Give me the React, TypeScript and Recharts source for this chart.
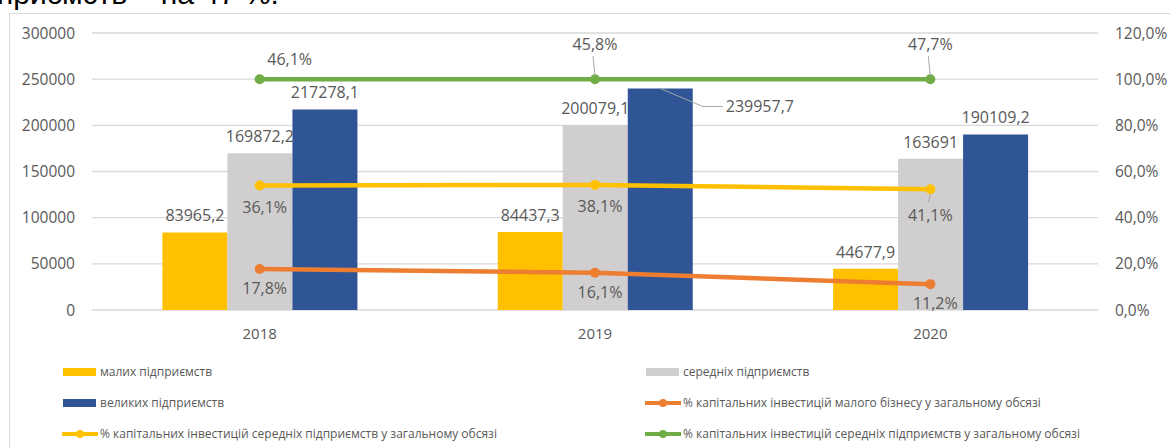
import {
  ComposedChart,
  Bar,
  Line,
  XAxis,
  YAxis,
  CartesianGrid,
  LabelList,
  Legend,
} from "recharts";

const years = ["2018", "2019", "2020"];

// capital investments, thousand UAH
const smallFirms = [83965.2, 84437.3, 44677.9];
const mediumFirms = [169872.2, 200079.1, 163691];
const largeFirms = [217278.1, 239957.7, 190109.2];

// shares in total volume, %
const smallShare = [17.8, 16.1, 11.2];
const mediumShare = [36.1, 38.1, 41.1];
const largeShare = [46.1, 45.8, 47.7];

const leftTicks = [0, 50000, 100000, 150000, 200000, 250000, 300000];
const rightTicks = [0, 20, 40, 60, 80, 100, 120];

const YELLOW = "#FFC000";
const GRAY = "#D0CECE";
const BLUE = "#2F5597";
const ORANGE = "#ED7D31";
const GREEN = "#70AD47";
const TEXT = "#595959";
const FONT = "'Open Sans', sans-serif";

// share lines are drawn stacked (as in the excel source), labels show own value
const chartData = years.map((year, i) => ({
  year,
  small: smallFirms[i],
  medium: mediumFirms[i],
  large: largeFirms[i],
  smallShare: smallShare[i],
  mediumShare: mediumShare[i],
  largeShare: largeShare[i],
  smallLine: smallShare[i],
  mediumLine: smallShare[i] + mediumShare[i],
  largeLine: smallShare[i] + mediumShare[i] + largeShare[i],
}));

const fmtNum = (v: number) => String(v).replace(".", ",");
const fmtPct = (v: number) => `${v.toFixed(1).replace(".", ",")}%`;

const legendItems = [
  { name: "малих підприємств", color: YELLOW, type: "bar" },
  { name: "середніх підприємств", color: GRAY, type: "bar" },
  { name: "великих підприємств", color: BLUE, type: "bar" },
  { name: "% капітальних інвестицій малого бізнесу у загальному обсязі", color: ORANGE, type: "line" },
  { name: "% капітальних інвестицій середніх підприємств у загальному обсязі", color: YELLOW, type: "line" },
  { name: "% капітальних інвестицій середніх підприємств у загальному обсязі", color: GREEN, type: "line" },
];

const labelStyle = { fontSize: 16, fill: TEXT, fontFamily: FONT };

const BarLabel = (props: any) => {
  const { x, y, width, value } = props;
  return (
    <text x={x + width / 2} y={y - 11} textAnchor="middle" {...labelStyle}>
      {fmtNum(value)}
    </text>
  );
};

const LargeBarLabel = (props: any) => {
  const { x, y, width, value, index } = props;
  if (index === 1) {
    // label moved aside with a leader line
    return (
      <g>
        <polyline
          points={`${x + width / 2},${y} ${x + width + 10},${y + 18} ${x + width + 30},${y + 18}`}
          fill="none"
          stroke="#A6A6A6"
          strokeWidth={1}
        />
        <text x={x + width + 33} y={y + 24} textAnchor="start" {...labelStyle}>
          {fmtNum(value)}
        </text>
      </g>
    );
  }
  return (
    <text x={x + width / 2} y={y - 11} textAnchor="middle" {...labelStyle}>
      {fmtNum(value)}
    </text>
  );
};

const BelowLabel = (props: any) => {
  const { x, y, value } = props;
  return (
    <text x={x + 5} y={y + 25} textAnchor="middle" {...labelStyle}>
      {fmtPct(value)}
    </text>
  );
};

const MediumShareLabel = (props: any) => {
  const { x, y, value, index } = props;
  if (index === 2) {
    return (
      <g>
        <line x1={x} y1={y + 5} x2={x - 2} y2={y + 13} stroke="#A6A6A6" />
        <text x={x} y={y + 32} textAnchor="middle" {...labelStyle}>
          {fmtPct(value)}
        </text>
      </g>
    );
  }
  return (
    <text x={x + 5} y={y + 27} textAnchor="middle" {...labelStyle}>
      {fmtPct(value)}
    </text>
  );
};

const LargeShareLabel = (props: any) => {
  const { x, y, value, index } = props;
  if (index === 0) {
    return (
      <text x={x + 30} y={y - 14} textAnchor="middle" {...labelStyle}>
        {fmtPct(value)}
      </text>
    );
  }
  return (
    <g>
      <line x1={x} y1={y - 3} x2={x - 2} y2={y - 23} stroke="#A6A6A6" />
      <text x={x} y={y - 29} textAnchor="middle" {...labelStyle}>
        {fmtPct(value)}
      </text>
    </g>
  );
};

const LegendContent = () => (
  <div
    style={{
      position: "relative",
      height: 108,
      fontFamily: FONT,
      fontSize: 12,
      color: TEXT,
    }}
  >
    {legendItems.map((item, i) => {
      const col = i % 2;
      const row = Math.floor(i / 2);
      return (
        <div
          key={i}
          style={{
            position: "absolute",
            left: col === 0 ? 53 : 636,
            top: 23 + row * 31,
            display: "flex",
            alignItems: "center",
            whiteSpace: "nowrap",
          }}
        >
          {item.type === "bar" ? (
            <svg width={38} height={10}>
              <rect x={1} y={1} width={33} height={8} fill={item.color} />
            </svg>
          ) : (
            <svg width={38} height={10}>
              <line x1={0} y1={5} x2={36} y2={5} stroke={item.color} strokeWidth={4} />
              <circle cx={18} cy={5} r={4} fill={item.color} />
            </svg>
          )}
          <span>{item.name}</span>
        </div>
      );
    })}
  </div>
);

export default function App() {
  return (
    <div
      style={{
        position: "fixed",
        left: 0,
        top: 0,
        width: 1170,
        height: 448,
        overflow: "hidden",
        background: "#fff",
      }}
    >
      <div
        style={{
          position: "absolute",
          left: -3,
          top: -23,
          fontFamily: "'Liberation Sans', Arial, sans-serif",
          fontSize: 30,
          color: "#000",
          whiteSpace: "nowrap",
        }}
      >
        приємств – на 47 %.
      </div>
      <div
        style={{
          position: "absolute",
          left: 9,
          top: 13,
          width: 1170,
          height: 440,
          border: "1px solid #D9D9D9",
          boxSizing: "border-box",
        }}
      />
      <div style={{ position: "absolute", left: 9, top: 13 }}>
        <ComposedChart
          width={1160}
          height={435}
          data={chartData}
          margin={{ top: 20, right: 0, bottom: 0, left: 0 }}
          barCategoryGap="21%"
          barGap={0}
        >
          <CartesianGrid vertical={false} stroke="#D9D9D9" strokeWidth={1.3} yAxisId="left" />
          <XAxis
            dataKey="year"
            axisLine={false}
            tickLine={false}
            height={30}
            tickMargin={12}
            tick={{ fontSize: 15, fill: TEXT, fontFamily: FONT }}
          />
          <YAxis
            yAxisId="left"
            domain={[0, 300000]}
            ticks={leftTicks}
            width={83}
            axisLine={false}
            tickLine={false}
            tickSize={0}
            tickMargin={17}
            tick={{ fontSize: 15.5, fill: TEXT, fontFamily: FONT }}
          />
          <YAxis
            yAxisId="right"
            orientation="right"
            domain={[0, 120]}
            ticks={rightTicks}
            width={71}
            axisLine={false}
            tickLine={false}
            tickSize={0}
            tickMargin={17}
            tickFormatter={fmtPct}
            tick={{ fontSize: 15.5, fill: TEXT, fontFamily: FONT }}
          />
          <Legend verticalAlign="bottom" content={LegendContent} />
          <Bar yAxisId="left" dataKey="small" fill={YELLOW} isAnimationActive={false}>
            <LabelList dataKey="small" content={BarLabel} />
          </Bar>
          <Bar yAxisId="left" dataKey="medium" fill={GRAY} isAnimationActive={false}>
            <LabelList dataKey="medium" content={BarLabel} />
          </Bar>
          <Bar yAxisId="left" dataKey="large" fill={BLUE} isAnimationActive={false}>
            <LabelList dataKey="large" content={LargeBarLabel} />
          </Bar>
          <Line
            yAxisId="right"
            dataKey="smallLine"
            stroke={ORANGE}
            strokeWidth={4.5}
            dot={{ r: 5, fill: ORANGE, stroke: ORANGE, strokeWidth: 0 }}
            isAnimationActive={false}
          >
            <LabelList dataKey="smallShare" content={BelowLabel} />
          </Line>
          <Line
            yAxisId="right"
            dataKey="mediumLine"
            stroke={YELLOW}
            strokeWidth={4.5}
            dot={{ r: 5, fill: YELLOW, stroke: YELLOW, strokeWidth: 0 }}
            isAnimationActive={false}
          >
            <LabelList dataKey="mediumShare" content={MediumShareLabel} />
          </Line>
          <Line
            yAxisId="right"
            dataKey="largeLine"
            stroke={GREEN}
            strokeWidth={4.5}
            dot={{ r: 5, fill: GREEN, stroke: GREEN, strokeWidth: 0 }}
            isAnimationActive={false}
          >
            <LabelList dataKey="largeShare" content={LargeShareLabel} />
          </Line>
        </ComposedChart>
      </div>
    </div>
  );
}
